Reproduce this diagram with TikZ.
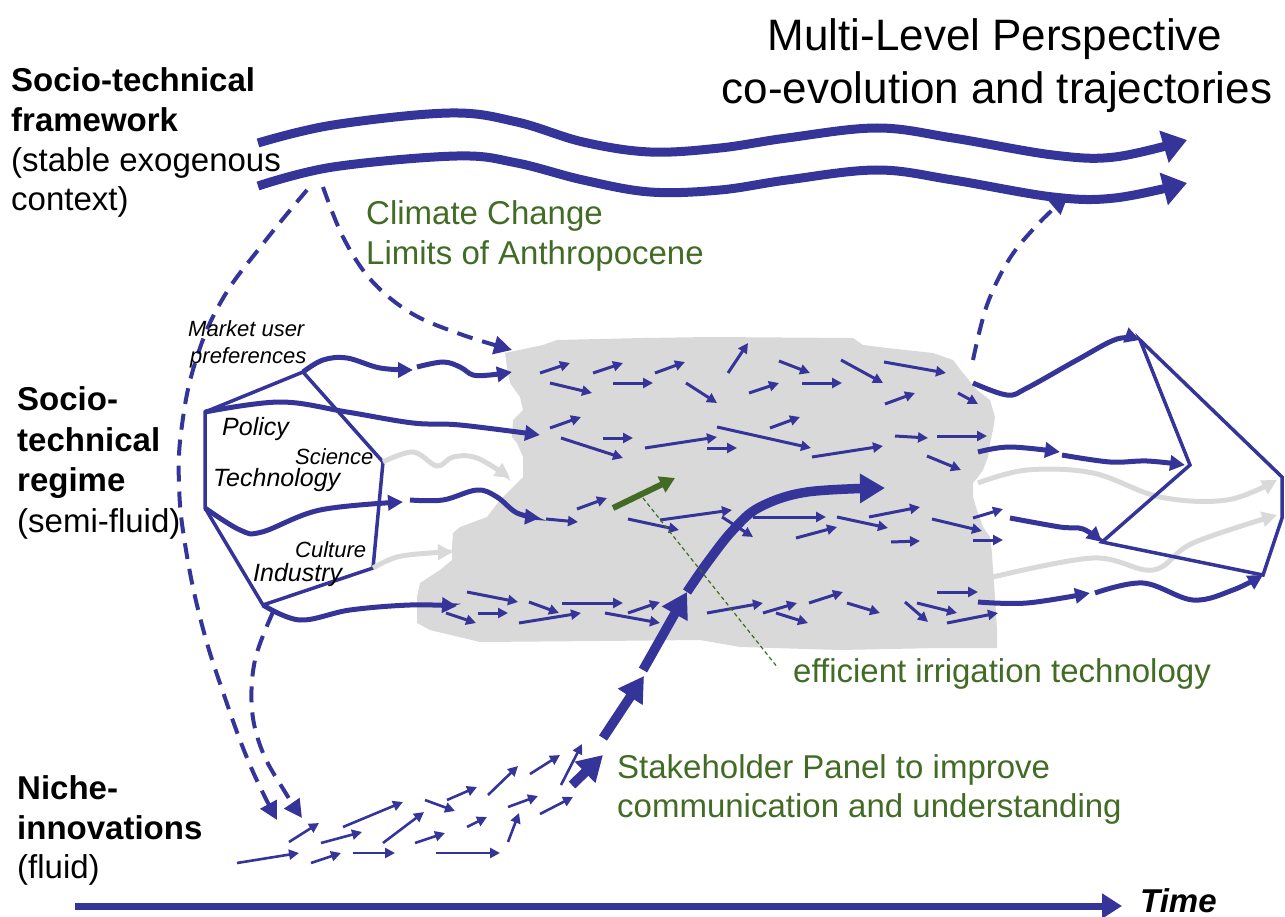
\documentclass[tikz,border=0pt]{standalone}
\usepackage{fontspec}
\setmainfont{Liberation Sans}
\usetikzlibrary{arrows.meta}
\definecolor{mlpblue}{RGB}{53,52,153}
\definecolor{mlpgreen}{RGB}{66,108,38}
\definecolor{blobgray}{RGB}{217,217,217}
\newcommand\fsz[2]{\fontsize{#1}{#2}\selectfont}
\begin{document}
\begin{tikzpicture}[x=1pt,y=-1pt,
  lbl/.style={anchor=base west, inner sep=0pt},
  wave/.style={mlpblue, line width=9pt, -{Triangle[length=24pt,width=32pt]}},
  regime/.style={mlpblue, line width=5pt, -{Triangle[length=15pt,width=15pt]}},
  ghost/.style={blobgray, line width=5pt, -{Triangle[length=15pt,width=15pt]}},
  small/.style={mlpblue, line width=3pt, -{Triangle[length=10pt,width=10pt]}},
  dasharrow/.style={mlpblue, line width=4pt, dash pattern=on 16pt off 10pt, -{Triangle[length=18pt,width=18pt]}},
  frame/.style={mlpblue, line width=3.5pt, line join=miter},
  bigarrow/.style={mlpblue, line width=9.5pt, -{Triangle[length=25pt,width=28pt]}},
  greenarrow/.style={mlpgreen, line width=6pt, -{Triangle[length=15pt,width=17pt]}},
  big/.style={font=\fsz{33}{40}},
  bigb/.style={font=\fsz{33}{40}\bfseries},
  ital/.style={font=\fsz{22}{26}\itshape},
  italL/.style={font=\fsz{25}{30}\itshape},
  greentext/.style={font=\fsz{33}{40}, text=mlpgreen}
]
\useasboundingbox (0,0) rectangle (1285,917);

% ---------- grey blob (regime field) ----------
\fill[blobgray] (505,353) -- (543,345) -- (557,340) -- (643,338) -- (710,337) -- (853,338)
  -- (863,345) -- (887,348) -- (933,353) -- (953,360) -- (963,373) -- (977,390) -- (990,400)
  -- (995,417) -- (993,430) -- (990,443) -- (988,457) -- (983,470) -- (978,477) -- (973,483)
  -- (973,497) -- (977,510) -- (983,527) -- (990,537) -- (992,553) -- (993,570) -- (995,597)
  -- (997,630) -- (997,648) -- (940,648) -- (840,650) -- (740,647) -- (700,640) -- (600,641)
  -- (480,642) -- (430,630) -- (417,623) -- (417,597) -- (420,583) -- (440,570) -- (452,560)
  -- (452,547) -- (453,533) -- (460,527) -- (487,517) -- (500,500) -- (507,493) -- (513,487)
  -- (523,477) -- (523,457) -- (517,443) -- (512,437) -- (513,420) -- (523,410) -- (520,397)
  -- (510,383) -- (507,367) -- cycle;

% ---------- landscape waves ----------
\draw[wave] plot[smooth, tension=0.6] coordinates {(258,143) (333,125) (450,113) (517,122) (583,142) (650,152) (720,148) (787,138) (877,128) (953,138) (1053,155) (1115,157) (1187,140)};
\draw[wave] plot[smooth, tension=0.6] coordinates {(258,186) (333,167) (457,156) (517,163) (583,180) (650,192) (720,190) (787,180) (877,170) (953,180) (1053,197) (1115,198) (1187,183)};

% ---------- left regime polygon ----------
\coordinate (L1) at (205,412);
\coordinate (L2) at (303,372);
\coordinate (L3) at (383,462);
\coordinate (L4) at (373,568);
\coordinate (L5) at (263,605);
\coordinate (L6) at (205,508);
\draw[frame] (L1) -- (L2) -- (L3) -- (L4) -- (L5) -- (L6) -- cycle;

% grey side trajectories
\draw[ghost] plot[smooth, tension=0.6] coordinates {(L3) (413,452) (437,466) (453,457) (477,458) (510,478)};
\draw[ghost] plot[smooth, tension=0.6] coordinates {(L4) (397,557) (430,553) (453,552)};
\draw[ghost] plot[smooth, tension=0.6] coordinates {(978,483) (1027,470) (1093,473) (1160,497) (1227,500) (1277,480)};
\draw[ghost] plot[smooth, tension=0.6] coordinates {(993,577) (1093,558) (1153,570) (1193,543) (1277,515)};

% regime trajectories from the left polygon
\draw[regime] plot[smooth, tension=0.6] coordinates {(L2) (323,360) (347,358) (380,368) (413,370)};
\draw[regime] plot[smooth, tension=0.6] coordinates {(417,367) (443,362) (460,367) (473,375) (490,375) (512,372)};
\draw[regime] plot[smooth, tension=0.6] coordinates {(L1) (280,402) (347,412) (413,423) (460,425) (540,435)};
\draw[regime] plot[smooth, tension=0.6] coordinates {(L6) (240,530) (262,532) (320,510) (403,502)};
\draw[regime] plot[smooth, tension=0.6] coordinates {(410,500) (443,500) (477,490) (497,497) (517,513) (540,518)};
\draw[regime] plot[smooth, tension=0.6] coordinates {(L5) (300,620) (350,610) (410,605) (457,606)};

% ---------- right polygon and trajectories ----------
\coordinate (R1) at (1140,340);
\coordinate (R2) at (1190,465);
\coordinate (R3) at (1102,542);
\coordinate (R4) at (1263,575);
\coordinate (R5) at (1282,518);
\coordinate (R6) at (1282,477);
\draw[frame] (R1) -- (R2) -- (R3) -- (R4) -- (R5) -- (R6) -- cycle;

\draw[regime] plot[smooth, tension=0.6] coordinates {(973,383) (1007,395) (1027,388) (1077,360) (1117,339) (R1)};
\draw[regime] plot[smooth, tension=0.6] coordinates {(978,452) (1010,447) (1060,452)};
\draw[regime] plot[smooth, tension=0.6] coordinates {(1062,455) (1110,462) (1147,461) (1185,465)};
\draw[regime] plot[smooth, tension=0.6] coordinates {(1010,518) (1060,527) (1083,529) (R3)};
\draw[regime] plot[smooth, tension=0.6] coordinates {(978,602) (1027,603) (1090,593)};
\draw[regime] plot[smooth, tension=0.6] coordinates {(1095,593) (1143,583) (1193,600) (1233,590) (R4)};

% ---------- dashed influences ----------
\draw[dasharrow] plot[smooth, tension=0.7] coordinates {(307,190) (262,245) (222,300) (196,360) (182,425) (179,485) (186,550) (202,625) (224,695) (250,765) (277,820)};
\draw[dasharrow] plot[smooth, tension=0.6] coordinates {(273,612) (255,660) (252,710) (263,753) (285,792) (302,818)};
\draw[dasharrow] plot[smooth, tension=0.6] coordinates {(323,187) (343,237) (371,280) (411,313) (460,334) (512,350)};
\draw[dasharrow] plot[smooth, tension=0.6] coordinates {(973,360) (987,305) (1010,258) (1040,222) (1068,196)};

% ---------- small arrows inside the blob ----------
\foreach \xa/\ya/\xb/\yb in {
 540/373/570/363, 550/383/592/393, 593/373/623/363, 613/383/653/383, 655/373/685/362,
 686/383/717/403, 728/373/748/343, 779/361/810/373, 749/393/779/383, 802/383/842/383,
 841/360/883/383, 884/362/946/373, 885/404/915/393, 958/393/978/404,
 550/428/581/417, 561/438/623/458, 603/438/633/438, 645/448/717/437, 707/448/737/448,
 770/428/800/417, 717/427/811/448, 812/457/883/446, 895/436/928/438, 937/436/987/436,
 927/456/961/470,
 546/519/578/522, 577/509/607/498, 628/519/679/530, 660/520/732/510, 722/517/753/537,
 753/517/826/517, 796/538/837/527, 837/517/888/528, 869/517/920/507, 891/542/920/541,
 932/519/982/531, 973/518/1003/509, 973/540/1003/540,
 467/592/518/602, 446/613/476/623, 478/613/508/613, 529/602/559/613, 562/603/623/603,
 519/623/581/613, 605/613/660/623, 628/613/660/602, 707/613/763/603, 763/613/797/603,
 776/613/808/623, 809/603/843/592, 847/603/880/613, 905/602/928/622, 917/603/957/613,
 937/592/978/592, 947/623/998/613}
  \draw[small] (\xa,\ya) -- (\xb,\yb);

% ---------- niche arrows ----------
\foreach \xa/\ya/\xb/\yb in {
 237/863/299/853, 311/863/341/853, 353/853/395/853, 436/853/500/853,
 289/842/319/823, 321/843/362/832, 343/827/403/802, 383/843/424/812,
 415/843/445/833, 425/800/455/811, 447/800/477/787, 467/827/487/817,
 488/795/518/766, 508/807/538/796, 508/842/519/813, 530/774/560/755,
 540/814/573/797, 561/785/582/744}
  \draw[small, line width=2.6pt] (\xa,\ya) -- (\xb,\yb);

% ---------- breakthrough trajectory ----------
\draw[bigarrow] (572,785) -- (603,755);
\draw[bigarrow] (603,738) -- (644,676);
\draw[bigarrow] (643,670) -- (687,592);
\draw[bigarrow] plot[smooth, tension=0.6] coordinates {(687,592) (707,563) (733,530) (760,507) (807,492) (885,488)};

% ---------- green innovation ----------
\draw[greenarrow] (613,508) -- (675,478);
\node[greentext, lbl] (irr) at (793,682) {efficient irrigation technology};
\draw[mlpgreen, line width=1.2pt, dash pattern=on 4pt off 3pt] (643,498) -- (778,668);

% ---------- time axis ----------
\node[lbl, font=\fsz{33}{40}\bfseries\itshape] (time) at (1140,912) {Time};
\coordinate (t0) at (75,906);
\coordinate (t1) at (1122,906);
\draw[mlpblue, line width=7pt, -{Triangle[length=20pt,width=24pt]}] (t0) -- (t1);

% ---------- texts ----------
\node[anchor=base, inner sep=0pt, font=\fsz{44}{53}] (title1) at (995,51) {Multi-Level Perspective};
\node[anchor=base, inner sep=0pt, font=\fsz{44}{53}] (title2) at (997,104) {co-evolution and trajectories};

\node[lbl, bigb] (fw1) at (11,92) {Socio-technical};
\node[lbl, bigb] (fw2) at (11,132) {framework};
\node[lbl, big]  (fw3) at (11,172) {(stable exogenous};
\node[lbl, big]  (fw4) at (11,211) {context)};

\node[lbl, bigb] (rg1) at (17,410) {Socio-};
\node[lbl, bigb] (rg2) at (17,451) {technical};
\node[lbl, bigb] (rg3) at (17,491) {regime};
\node[lbl, big]  (rg4) at (17,532) {(semi-fluid)};

\node[lbl, bigb] (ni1) at (17,799) {Niche-};
\node[lbl, bigb] (ni2) at (17,839) {innovations};
\node[lbl, big]  (ni3) at (17,878) {(fluid)};

\node[lbl, greentext] (cc1) at (366,225) {Climate Change};
\node[lbl, greentext] (cc2) at (366,265) {Limits of Anthropocene};

\node[lbl, greentext] (sp1) at (617,778) {Stakeholder Panel to improve};
\node[lbl, greentext] (sp2) at (617,817) {communication and understanding};

\node[lbl, ital]  (mk1) at (188,337) {Market user};
\node[lbl, ital]  (mk2) at (190,363) {preferences};
\node[lbl, italL] (pol) at (222,435) {Policy};
\node[lbl, ital]  (sci) at (295,464) {Science};
\node[lbl, italL] (tec) at (213,486) {Technology};
\node[lbl, ital]  (cul) at (295,557) {Culture};
\node[lbl, italL] (ind) at (253,581) {Industry};
\end{tikzpicture}
\end{document}
